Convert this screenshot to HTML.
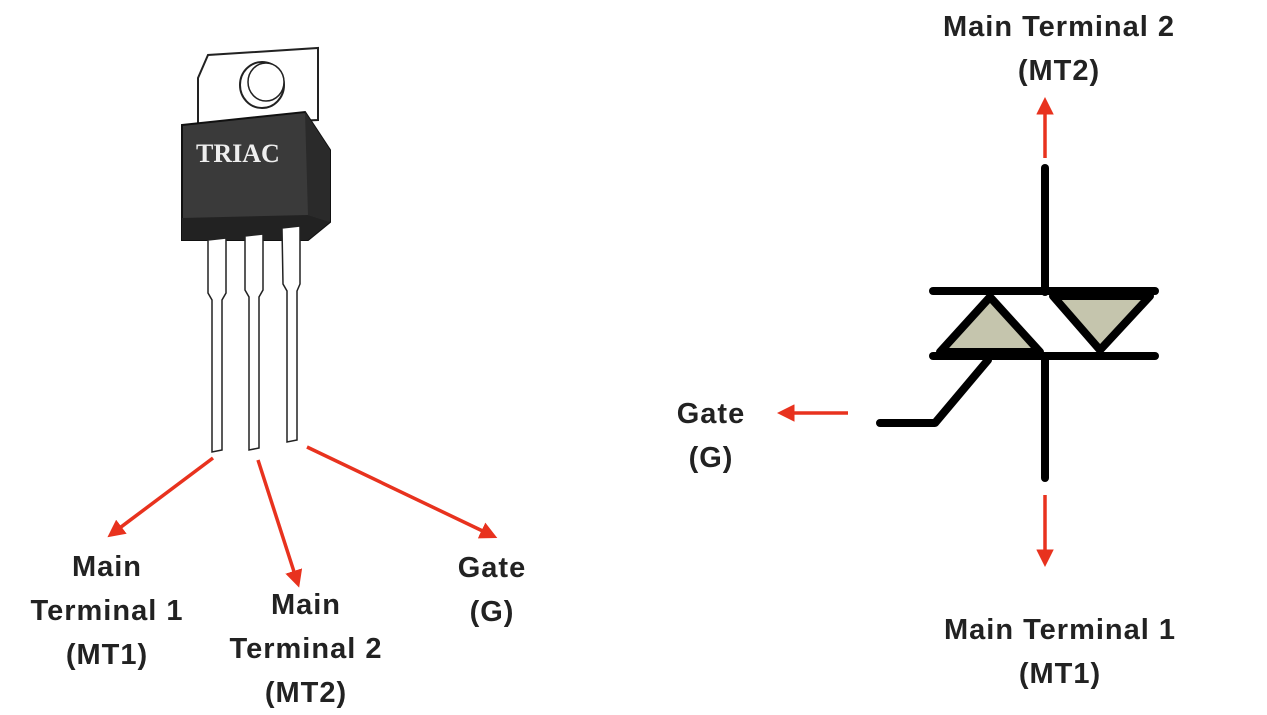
<!DOCTYPE html>
<html><head><style>
body{margin:0;width:1267px;height:713px;background:#fff;overflow:hidden;position:relative;font-family:"Liberation Sans",sans-serif}
.t{position:absolute;font-weight:bold;font-size:29px;letter-spacing:1px;color:#222;text-align:center;line-height:44px;width:300px}
</style></head><body>
<svg width="1267" height="713" style="position:absolute;left:0;top:0">
<defs><marker id="a" markerWidth="5" markerHeight="5" refX="3" refY="2.5" orient="auto"><path d="M0,0L5,2.5L0,5z" fill="#e8321e"/></marker></defs>
<path d="M198,78 L208,55 L318,48 L318,120 L198,125Z" fill="#fff" stroke="#222" stroke-width="2"/>
<ellipse cx="262" cy="85" rx="22" ry="23" fill="#fff" stroke="#222" stroke-width="2"/>
<ellipse cx="266" cy="82" rx="18" ry="19" fill="#fff" stroke="#222" stroke-width="1.5"/>
<path d="M182,125 L305,112 L330,150 L330,222 L308,240 L182,240Z" fill="#3a3a3a" stroke="#111" stroke-width="2"/>
<path d="M182,218 L308,215 L330,222 L308,240 L182,240Z" fill="#222"/>
<path d="M305,112 L330,150 L330,222 L308,215Z" fill="#2a2a2a"/>
<text x="196" y="162" fill="#eee" font-family="Liberation Serif,serif" font-weight="bold" font-size="26">TRIAC</text>
<g fill="#fff" stroke="#222" stroke-width="1.5">
<path d="M208,240 L226,238 L226,293 L222,300 L222,450 L212,452 L212,300 L208,293Z"/>
<path d="M245,236 L263,234 L263,290 L259,297 L259,448 L249,450 L249,297 L245,290Z"/>
<path d="M282,228 L300,226 L300,284 L297,291 L297,440 L287,442 L287,291 L283,284Z"/>
</g>
<g stroke="#e8321e" stroke-width="3.5" marker-end="url(#a)">
<line x1="213" y1="458" x2="113" y2="533"/>
<line x1="258" y1="460" x2="297" y2="581"/>
<line x1="307" y1="447" x2="491" y2="535"/>
<line x1="1045" y1="158" x2="1045" y2="104"/>
<line x1="1045" y1="495" x2="1045" y2="560"/>
<line x1="848" y1="413" x2="784" y2="413"/>
</g>
<g stroke="#000" stroke-width="8" stroke-linecap="round" stroke-linejoin="round" fill="none">
<path d="M990,297 L940,352 L1040,352Z" fill="#c5c5ad"/>
<path d="M1053,296 L1150,296 L1100,350Z" fill="#c5c5ad"/>
<line x1="1045" y1="168" x2="1045" y2="292"/>
<line x1="1045" y1="356" x2="1045" y2="478"/>
<line x1="933" y1="291" x2="1155" y2="291"/>
<line x1="933" y1="356" x2="1155" y2="356"/>
<path d="M880,423 L935,423 L988,360"/>
</g>
</svg>
<div class="t" style="left:-43px;top:545px">Main<br>Terminal 1<br>(MT1)</div>
<div class="t" style="left:156px;top:583px">Main<br>Terminal 2<br>(MT2)</div>
<div class="t" style="left:342px;top:546px">Gate<br>(G)</div>
<div class="t" style="left:909px;top:5px">Main Terminal 2<br>(MT2)</div>
<div class="t" style="left:561px;top:392px">Gate<br>(G)</div>
<div class="t" style="left:910px;top:608px">Main Terminal 1<br>(MT1)</div>
</body></html>
